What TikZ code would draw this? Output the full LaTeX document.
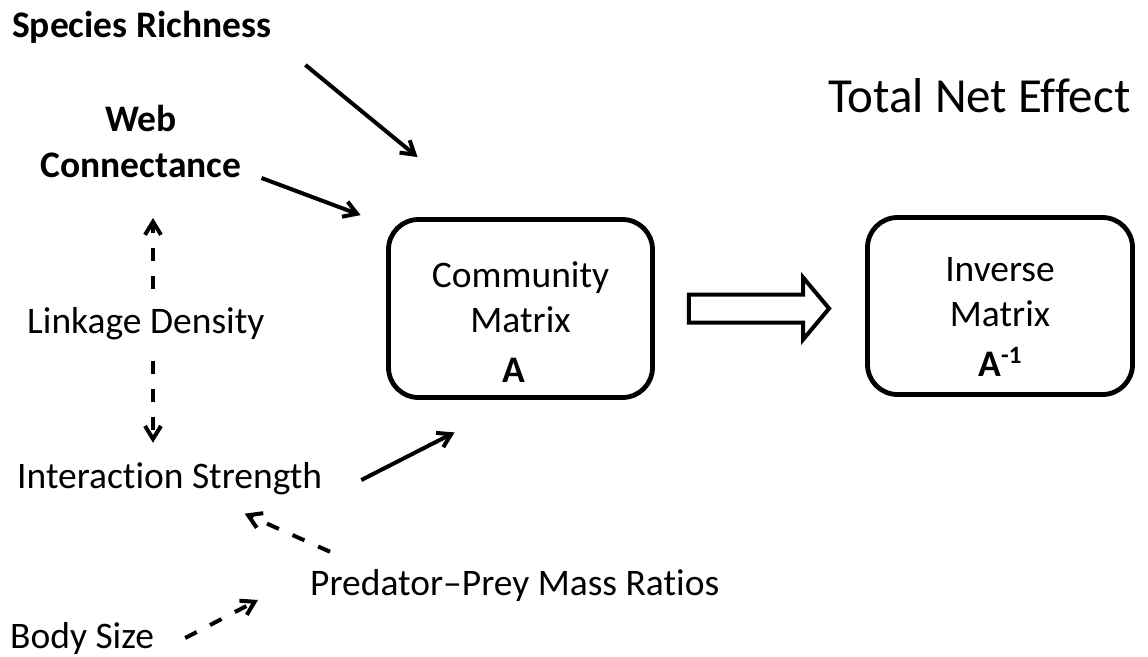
\documentclass[tikz,border=0pt]{standalone}
\usepackage{fontspec}
\setmainfont{Carlito}[Ligatures={TeX,NoCommon}]
\usetikzlibrary{arrows.meta,calc}
\begin{document}
\begin{tikzpicture}[x=1pt,y=-1pt,
  txt/.style={inner sep=0pt, font=\fontsize{37.5}{46}\selectfont},
  boldtxt/.style={inner sep=0pt, font=\fontsize{37.5}{46}\selectfont\bfseries},
  matbox/.style={draw, line width=4.8pt, rounded corners=30pt, align=center,
    inner sep=0pt, font=\fontsize{37.5}{45}\selectfont},
  arr/.style={line width=4pt, -{Straight Barb[length=13pt,width=16pt]}},
  darr/.style={arr, dash pattern=on 13pt off 15pt},
  blockarrow/.style={line width=4pt, fill=white, line join=miter},
]
\fill[white] (0,0) rectangle (1148,656);
\useasboundingbox (0,0) rectangle (1148,656);

% drivers on the left
\node[boldtxt, anchor=base west] (sr) at (12,37) {Species Richness};
\node[boldtxt, align=center, anchor=south] (wc) at (141,178) {Web\\Connectance};
\node[txt, anchor=base west] (ld) at (27,333) {Linkage Density};
\node[txt, anchor=base west] (is) at (17,488) {Interaction Strength};
\node[txt, anchor=base west] (pp) at (310,595) {Predator\textendash Prey Mass Ratios};
\node[txt, anchor=base west] (bs) at (10,648) {Body Size};

% title
\node[inner sep=0pt, anchor=base west, font=\fontsize{49}{58}\selectfont] (tne) at (828,112) {Total Net Effect};

% matrices
\node[matbox, minimum width=264pt, minimum height=178pt] (cm) at (520.5,308.5)
  {\rule{0pt}{53pt}Community\\Matrix\hspace*{26pt}\\[5pt]\textbf{A}\hspace*{14pt}};
\node[matbox, minimum width=265pt, minimum height=177pt] (inv) at (1000,306)
  {\rule{0pt}{46pt}Inverse\\Matrix\\[5pt]\textbf{A}\raisebox{13pt}{\fontsize{25}{25}\selectfont\bfseries -1}};

% hollow block arrow from A to its inverse
\draw[blockarrow]
  ($(cm.east)+(34,-14)$) -- ($(inv.west |- cm.east)+(-62,-14)$)
  -- ($(inv.west |- cm.east)+(-62,-31)$) -- ($(inv.west |- cm.east)+(-36,0)$)
  -- ($(inv.west |- cm.east)+(-62,31)$) -- ($(inv.west |- cm.east)+(-62,14)$)
  -- ($(cm.east)+(34,14)$) -- cycle;

% solid influences on the community matrix
\draw[arr] ([shift={(34,28)}]sr.base east) -- ([shift={(31.5,-60)}]cm.north west);
\draw[arr] ([shift={(20,0)}]wc.south east) -- ([shift={(-25.5,-2)}]cm.north west);
\draw[arr] ([shift={(39,-8)}]is.base east) -- ([shift={(68.5,32.5)}]cm.south west);

% dashed links
\coordinate (vx) at ([shift={(12,0)}]wc.south);
\draw[darr] ($(ld.north -| vx)+(0,-18)$) -- ($(wc.south -| vx)+(0,40)$);
\draw[darr] ($(ld.south -| vx)+(0,21)$) -- ($(is.north -| vx)+(0,-19)$);
\draw[darr] ([shift={(20,-17)}]pp.north west) -- ([shift={(75,19)}]is.south);
\draw[darr] ([shift={(31,-10)}]bs.base east) -- ([shift={(-52,5)}]pp.base west);
\end{tikzpicture}
\end{document}
